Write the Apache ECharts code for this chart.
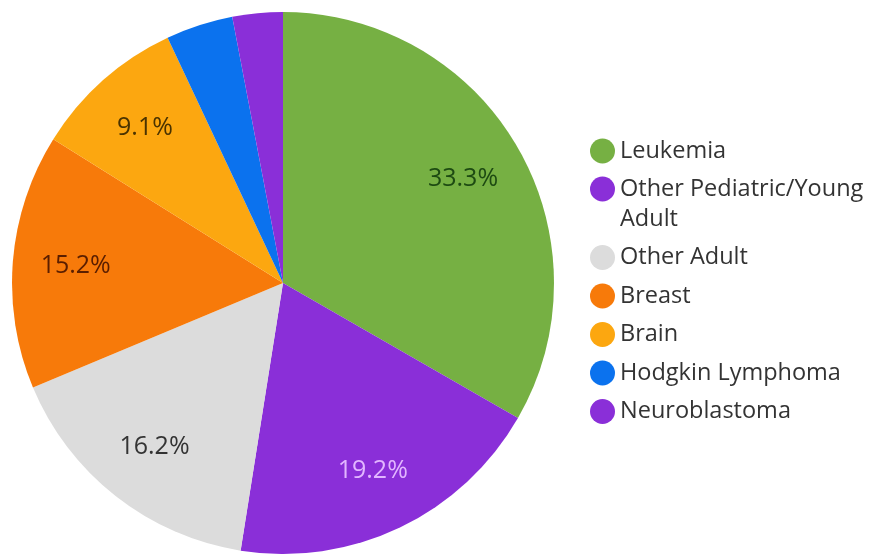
<!DOCTYPE html>
<html>
<head>
<meta charset="utf-8">
<script src="https://cdn.jsdelivr.net/npm/echarts@6/dist/echarts.min.js"></script>
<style>html,body{margin:0;padding:0;background:#fff}#c{width:874px;height:554px}</style>
</head>
<body>
<div id="c"></div>
<script>
const categories = ["Leukemia", "Other Pediatric/Young Adult", "Other Adult", "Breast", "Brain", "Hodgkin Lymphoma", "Neuroblastoma"];
const values = [33.3, 19.2, 16.2, 15.2, 9.1, 4.0, 3.0];
const colors = ["#76b043", "#8a2fd8", "#dcdcdc", "#f77a0a", "#fca710", "#0b72ee", "#8a2fd8"];
const labelColors = ["#1d4a12", "#e2b6ff", "#333333", "#5a1e00", "#4a3300", null, null];

const chart = echarts.init(document.getElementById('c'));
const mainData = categories.map((n, i) => ({ name: n, value: values[i], itemStyle: { color: colors[i] } }));
const labelData = categories.map((n, i) => ({
  name: n, value: values[i],
  itemStyle: { color: 'rgba(0,0,0,0)' },
  label: { show: labelColors[i] !== null, color: labelColors[i] || '#000' }
}));
const legendText = { fontFamily: 'Open Sans', fontSize: 23.5, color: '#333', width: 255, overflow: 'break', lineHeight: 30 };
const legendCommon = {
  orient: 'vertical',
  left: 585,
  icon: 'circle',
  itemWidth: 25,
  itemHeight: 25,
  itemGap: 8.5,
  textStyle: legendText,
  // a wrapped (two-line) name gets an empty first line so its icon sits beside the first text line
  formatter: name => name.length > 20 ? '\n' + name : name
};
chart.setOption({
  animation: false,
  legend: [
    Object.assign({}, legendCommon, { top: 131, data: categories.slice(0, 1) }),
    Object.assign({}, legendCommon, { top: 139, data: categories.slice(1) })
  ],
  series: [
    {
      type: 'pie',
      center: [283, 283],
      radius: [0, 271],
      startAngle: 90,
      clockwise: true,
      label: { show: false },
      labelLine: { show: false },
      itemStyle: { borderWidth: 0 },
      data: mainData
    },
    {
      type: 'pie',
      center: [283, 283],
      radius: [0, 410],
      startAngle: 90,
      clockwise: true,
      silent: true,
      legendHoverLink: false,
      label: {
        position: 'inside',
        fontFamily: 'Open Sans',
        fontSize: 25,
        formatter: p => p.value.toFixed(1) + '%'
      },
      labelLine: { show: false },
      data: labelData
    }
  ]
});
</script>
</body>
</html>
